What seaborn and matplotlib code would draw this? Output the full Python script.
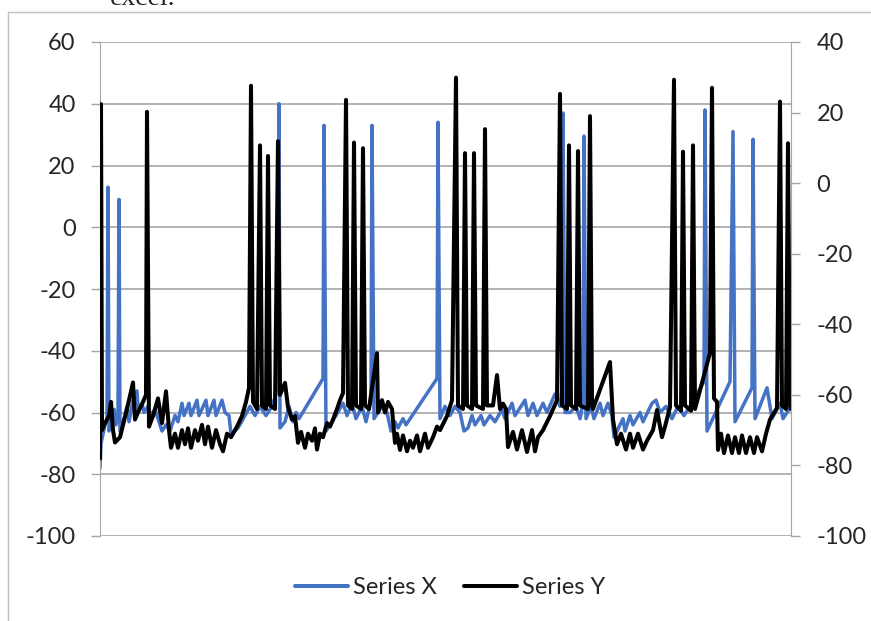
import matplotlib
matplotlib.use('Agg')
import matplotlib.pyplot as plt
import seaborn as sns
import pandas as pd
from matplotlib.lines import Line2D

# Series X (blue, left axis): time step and value
time_x = [0, 1, 5, 7, 8, 9, 12, 14, 16, 18, 19, 20, 24, 27, 29, 33, 37, 38, 42, 44,
          48, 50, 55, 58, 62, 66, 70, 75, 78, 82, 84, 89, 91, 97, 99, 106, 108, 114, 116, 122,
          125, 129, 131, 138, 145, 150, 155, 160, 166, 172, 178, 179, 180, 185, 189, 193, 196, 199, 223, 224,
          226, 236, 243, 247, 252, 256, 262, 266, 271, 272, 274, 282, 287, 291, 295, 298, 303, 306, 337, 338,
          340, 345, 350, 355, 360, 364, 368, 372, 375, 381, 384, 390, 395, 402, 405, 412, 415, 425, 428, 433,
          437, 443, 447, 455, 460, 462, 463, 465, 470, 476, 480, 483, 484, 486, 491, 494, 500, 503, 508, 512,
          514, 520, 523, 525, 530, 533, 540, 543, 552, 556, 560, 566, 572, 578, 584, 590, 604, 605, 607, 630,
          633, 635, 652, 653, 655, 667, 672, 680, 683, 691]
series_x = [-78, -70, -64, -62, 13, -66, -62, -59, -64, -60, 9, -66, -62, -58, -63, -56, -53, -59, -57, -60,
            -58, -61, -59, -62, -66, -64, -66, -61, -63, -57, -61, -57, -61, -56, -61, -56, -61, -56, -61, -56,
            -60, -61, -67, -65, -61, -58, -61, -58, -61, -58, -52, 40, -65, -63, -58, -63, -60, -62, -49, 33,
            -66, -61, -57, -61, -57, -62, -58, -63, -56, 33, -62, -58, -60, -66, -63, -65, -62, -64, -49, 34,
            -62, -58, -61, -58, -60, -66, -65, -61, -64, -61, -64, -61, -63, -59, -62, -57, -61, -56, -61, -57,
            -61, -57, -60, -54, -58, -52, 37, -60, -60, -58, -62, -57, 29.5, -62, -58, -62, -57, -61, -57, -61,
            -68, -64, -62, -66, -61, -64, -60, -63, -57, -56, -60, -58, -62, -58, -61, -58, -50, 38, -66, -50,
            31, -63, -52, 28.5, -62, -52, -62, -57, -62, -58]

# Series Y (black, right axis): time step and value
time_y = [0, 1, 2, 5, 9, 11, 13, 15, 20, 27, 33, 35, 38, 43, 46, 47, 49, 53, 58, 62,
          66, 69, 71, 75, 78, 82, 85, 88, 91, 95, 98, 102, 105, 108, 112, 116, 120, 123, 127, 131,
          137, 142, 146, 149, 151, 153, 157, 160, 162, 166, 168, 170, 175, 178, 180, 185, 188, 192, 195, 198,
          201, 205, 208, 212, 215, 217, 220, 223, 227, 230, 233, 237, 240, 243, 246, 248, 252, 254, 256, 261,
          263, 265, 269, 277, 278, 282, 285, 288, 292, 295, 297, 300, 303, 307, 310, 313, 317, 320, 325, 328,
          333, 337, 340, 347, 352, 356, 358, 363, 365, 367, 372, 374, 376, 383, 385, 387, 393, 397, 400, 403,
          406, 408, 413, 417, 422, 427, 432, 435, 438, 443, 450, 457, 460, 462, 467, 469, 471, 476, 478, 480,
          488, 490, 492, 493, 510, 513, 517, 521, 526, 530, 533, 538, 543, 547, 553, 557, 562, 565, 570, 574,
          576, 581, 583, 585, 591, 593, 595, 610, 612, 614, 617, 618, 621, 624, 628, 632, 635, 639, 642, 646,
          650, 654, 657, 662, 666, 670, 677, 680, 682, 686, 688, 690, 691]
series_y = [-78, 22.4, -70, -68, -66, -62, -70, -73.5, -72, -64, -56.5, -67, -65, -62, -60, 20.2, -69, -66, -61, -68,
            -59, -70, -75, -71, -75, -70, -74, -69.5, -75, -70, -73, -68.5, -74, -69, -75, -70, -74, -76, -71, -72,
            -69, -66, -62, -58, 27.6, -62, -64, 10.7, -63, -64, 7.7, -63, -64, 11.9, -60, -56.6, -63.5, -67, -66, -73.6,
            -70.5, -75, -71, -73, -69.5, -75.5, -71, -72, -68, -69, -67, -64, -61.5, -59.5, 23.6, -63, -64, 11.5, -63, -64,
            9.9, -63, -64, -48.2, -65, -61.5, -65, -62, -64, -73.6, -71, -75.6, -71.5, -76, -73, -75, -71.5, -76, -71, -75,
            -72, -69, -70, -66, -61.5, 29.9, -63, -64, 8.5, -63, -64, 8.5, -63, -64, 15.3, -63, -63, -54.4, -64, -62.5,
            -64, -74.8, -70.5, -75.5, -70, -76.2, -70, -76, -72, -70, -66, -61.5, 25.3, -63, -64, 10.7, -63, -64, 9.1, -63,
            -64, 19.0, -63, -64, -50.7, -67, -74, -71, -75.5, -71, -75, -71, -75.5, -73, -70, -64.3, -72, -69, -63.5, 29.3,
            -63, -64.5, 8.9, -63, -64.5, 10.7, -64, -48.1, 27.0, -61, -62, -75.6, -71, -76.5, -71.5, -76.5, -72, -76.5, -71.5, -76.5,
            -72, -76.5, -72, -76, -71, -67, -63.7, 23.1, -63, -64, 11.3, -63, -64]

left_ticks = [60, 40, 20, 0, -20, -40, -60, -80, -100]
right_ticks = [40, 20, 0, -20, -40, -60, -80, -100]

blue = '#4472C4'
grid_grey = '#a6a6a6'

sns.set_style('white')
plt.rcParams['font.family'] = ['Lato', 'DejaVu Sans']
plt.rcParams['axes.unicode_minus'] = False

W, H = 871, 621
fig = plt.figure(figsize=(W / 100, H / 100), dpi=100)
ax = fig.add_axes([100 / W, 1 - 536 / H, 691 / W, 494 / H])
ax2 = ax.twinx()

df_x = pd.DataFrame({'t': time_x, 'v': series_x})
df_y = pd.DataFrame({'t': time_y, 'v': series_y})
sns.lineplot(data=df_x, x='t', y='v', ax=ax, color=blue, lw=2.5, estimator=None,
             sort=False, legend=False)
sns.lineplot(data=df_y, x='t', y='v', ax=ax2, color='black', lw=2.9, estimator=None,
             sort=False, legend=False)
for line in ax.lines + ax2.lines:
    line.set_solid_joinstyle('round')
    line.set_solid_capstyle('round')

ax.set_xlim(0, 691)
ax.set_ylim(-100, 60)
ax2.set_ylim(-100, 40)
ax.set_yticks(left_ticks)
ax2.set_yticks(right_ticks)
ax.set_xticks([])
ax.set_xlabel('')
ax.set_ylabel('')
ax2.set_ylabel('')

ax.yaxis.grid(True, color=grid_grey, lw=1.2)
ax.set_axisbelow(True)
for s in ['top', 'bottom', 'right']:
    ax.spines[s].set_visible(False)
for s in ['top', 'bottom', 'left']:
    ax2.spines[s].set_visible(False)
ax.spines['left'].set_color(grid_grey)
ax2.spines['right'].set_color(grid_grey)

ax.tick_params(axis='y', direction='out', length=6.5, width=1, color=grid_grey,
               labelsize=17, pad=11)
ax2.tick_params(axis='y', direction='out', length=6.5, width=1, color=grid_grey,
                labelsize=17, pad=12)

# outer chart frame (left and top edges are visible)
fig.add_artist(Line2D([8 / W, 8 / W], [0, 1 - 12 / H], color='#bfbfbf', lw=1))
fig.add_artist(Line2D([8 / W, 1], [1 - 12 / H, 1 - 12 / H], color='#bfbfbf', lw=1))

# caption text above the chart, cropped at the top edge as in the source
fig.text(143 / W, 1 - 5 / H, 'excel.', family='Liberation Serif', fontsize=20,
         ha='center', va='baseline')

handles = [Line2D([], [], color=blue, lw=2.9), Line2D([], [], color='black', lw=2.9)]
fig.legend(handles, ['Series X', 'Series Y'], loc='center',
           bbox_to_anchor=(450 / W, 1 - 588 / H), ncol=2, frameon=False, fontsize=17,
           handlelength=2.25, handletextpad=0.2, columnspacing=1.15)

fig.savefig('out.png', dpi=100)
